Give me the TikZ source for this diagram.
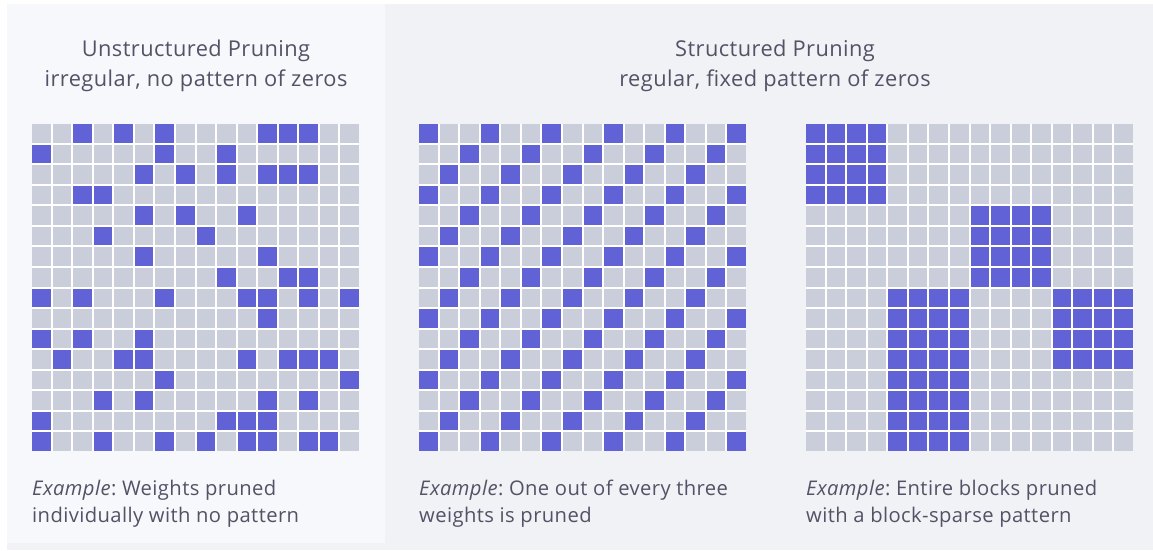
\documentclass[tikz,border=0pt]{standalone}
\usepackage{fontspec}
\setmainfont[LetterSpace=2]{Open Sans}
\frenchspacing
\definecolor{panelA}{HTML}{F7F8FB}
\definecolor{panelB}{HTML}{F1F2F6}
\definecolor{cellgray}{HTML}{C9CEDA}
\definecolor{cellblue}{HTML}{6062D6}
\definecolor{txt}{HTML}{515366}
\def\pp{20.5625}
\def\cs{18.56}
\newcommand\cellat[4]{\fill[#4] ({#1+#3*\pp},{124+#2*\pp}) rectangle ++(\cs,\cs);}
\newcommand\graygrid[1]{%
  \fill[white] (#1,124) rectangle ++(327,327);
  \foreach \r in {0,...,15}{\foreach \c in {0,...,15}{\cellat{#1}{\r}{\c}{cellgray}}}}
\begin{document}
\begin{tikzpicture}[x=1pt,y=-1pt,
  titletext/.style={font=\fontsize{21.8}{25}\selectfont, text=txt, anchor=base, inner sep=0pt},
  captext/.style={font=\fontsize{20.2}{24}\selectfont, text=txt, anchor=base west, inner sep=0pt}]
\useasboundingbox (0,0) rectangle (1153,550);
\fill[white] (0,0) rectangle (1153,550);
\fill[panelB] (7,4) rectangle (1153,550);
\fill[panelA] (7,4) rectangle (385,543);
% titles
\node[titletext] (ut1) at (196,56) {Unstructured Pruning};
\node[titletext] (ut2) at (196,86) {irregular, no pattern of zeros};
\node[titletext] (st1) at (775,56) {Structured Pruning};
\node[titletext] (st2) at (775,86) {regular, fixed pattern of zeros};
% grid 1: unstructured
\graygrid{32}
\foreach \r/\cols in {0/{2,4,6,11,12,13},1/{0,6,9},2/{5,7,9,11,12,13},3/{2,3},4/{5,7,10},5/{3,8},6/{5,11},7/{9,12,13},8/{0,2,6,10,11,13,15},9/{11},10/{0,2,5},11/{1,4,5,10,12,13,14},12/{6,15},13/{3,5,11,13},14/{0,9,10,11},15/{0,3,6,8,10,11,13,14}}{
  \foreach \c in \cols {\cellat{32}{\r}{\c}{cellblue}}}
% grid 2: one in three
\graygrid{419}
\foreach \r in {0,...,15}{\foreach \c in {0,...,15}{
  \pgfmathtruncatemacro\mm{mod(\r+\c,3)}
  \ifnum\mm=0 \cellat{419}{\r}{\c}{cellblue}\fi}}
% grid 3: block sparse
\graygrid{806}
\foreach \br/\bc in {0/0,1/2,2/1,2/3,3/1}{
  \foreach \i in {0,...,3}{\foreach \j in {0,...,3}{
    \pgfmathtruncatemacro\rr{4*\br+\i}
    \pgfmathtruncatemacro\cc{4*\bc+\j}
    \cellat{806}{\rr}{\cc}{cellblue}}}}
% captions
\node[captext] (c1a) at (32,495) {\textit{Example}: Weights pruned};
\node[captext] (c1b) at (32,522) {individually with no pattern};
\node[captext] (c2a) at (419,495) {\textit{Example}: One out of every three};
\node[captext] (c2b) at (419,522) {weights is pruned};
\node[captext] (c3a) at (806,495) {\textit{Example}: Entire blocks pruned};
\node[captext] (c3b) at (806,522) {with a block-sparse pattern};
\end{tikzpicture}
\end{document}
